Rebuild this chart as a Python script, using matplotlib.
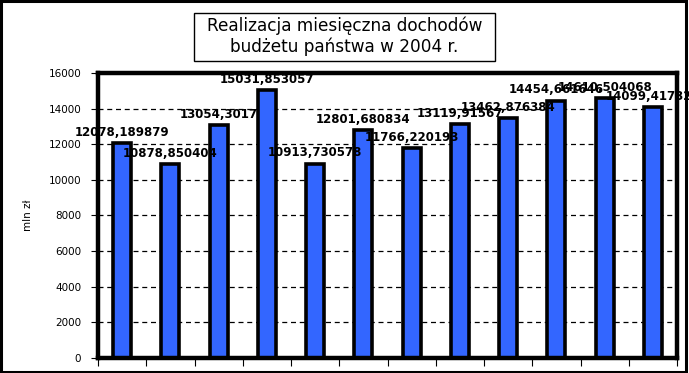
import matplotlib
matplotlib.use("Agg")
import matplotlib.pyplot as plt
from matplotlib.patches import Rectangle

months = list(range(1, 13))
values = [12078.189879, 10878.850404, 13054.3017, 15031.853057, 10913.730578,
          12801.680834, 11766.220193, 13119.91567, 13462.876384, 14454.661646,
          14610.504068, 14099.417323]
labels = ["12078,189879", "10878,850404", "13054,3017", "15031,853057", "10913,730578",
          "12801,680834", "11766,220193", "13119,91567", "13462,876384", "14454,661646",
          "14610,504068", "14099,417323"]
yticks = [0, 2000, 4000, 6000, 8000, 10000, 12000, 14000, 16000]
title = "Realizacja miesięczna dochodów\nbudżetu państwa w 2004 r."
ylabel = "mln zł"

W, H = 689, 373
fig = plt.figure(figsize=(W / 100, H / 100), dpi=100)
fig.patch.set_facecolor("white")
fig.patches.append(Rectangle((0.002, 0.004), 0.994, 0.992, transform=fig.transFigure,
                             fill=False, edgecolor="black", linewidth=2.2))

ax = fig.add_axes([98 / W, 1 - 358 / H, (677 - 98) / W, (358 - 73) / H])
ax.set_xlim(0.5, 12.5)
ax.set_ylim(0, 16000)
ax.set_axisbelow(True)
ax.yaxis.grid(True, color="black", linestyle=(0, (4, 3)), linewidth=0.9)

ax.bar(months, values, width=0.37, color="#3366FF", edgecolor="black", linewidth=2.6, zorder=3)

for x, v, s in zip(months, values, labels):
    ax.annotate(s, (x, v), xytext=(0, 3.0), textcoords="offset points",
                ha="center", va="bottom", fontsize=8.5, fontweight="bold",
                color="black", zorder=5, annotation_clip=False)

ax.set_yticks(yticks)
ax.set_yticklabels([str(t) for t in yticks], fontsize=7.5)
ax.set_xticks([i + 0.5 for i in range(0, 13)])
ax.set_xticklabels([])
ax.tick_params(axis="y", length=5, width=0.8, pad=7)
ax.tick_params(axis="x", length=6, width=0.8)
for sp in ax.spines.values():
    sp.set_linewidth(3.2)
    sp.set_zorder(4)

fig.text(28 / W, 1 - 215 / H, ylabel, rotation=90, ha="center", va="center", fontsize=7.5)

fig.patches.append(Rectangle((194 / W, 1 - 61 / H), (495 - 194) / W, (61 - 13) / H,
                             transform=fig.transFigure, fill=True, facecolor="white",
                             edgecolor="black", linewidth=1.0))
fig.text(0.5, 1 - 36.5 / H, title, ha="center", va="center", fontsize=12.2,
         linespacing=1.2)

fig.savefig("out.png", dpi=100)
